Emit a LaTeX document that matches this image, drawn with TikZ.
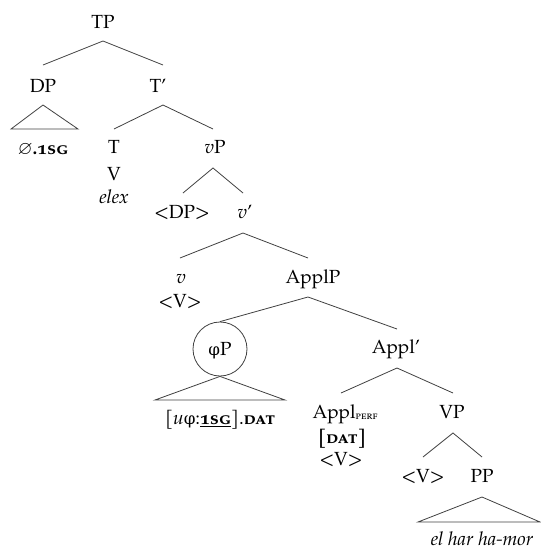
\documentclass[tikz,border=0pt]{standalone}
\usepackage{amssymb}
\usepackage{fontspec}
\setmainfont{TeX Gyre Pagella}[SmallCapsFeatures={Numbers=OldStyle}]
\newfontfamily\grk{DejaVu Serif}[Scale=0.88]
\usetikzlibrary{calc}

\begin{document}
\begin{tikzpicture}[x=1pt,y=-1pt,
  lbl/.style={anchor=base, inner sep=0pt, font=\fontsize{19}{23}\selectfont},
  edge/.style={draw=black!75, line width=0.8pt},
]
\useasboundingbox (0,0) rectangle (541,550);

% labels
\node[lbl] (TP) at (103,28) {TP};
\node[lbl] (DP) at (43,92) {DP};
\node[lbl] (Tbar) at (158,92) {T’};
\node[lbl] (DPcont) at (43,154) {$\varnothing$\textbf{.\textsc{1sg}}};
\node[lbl] (T) at (114,153) {T};
\node[lbl] (V) at (114,180) {V};
\node[lbl] (elex) at (114,203) {\textit{elex}};
\node[lbl] (vP) at (215,153) {\textit{v}P};
\node[lbl] (DPt) at (182,218) {<DP>};
\node[lbl] (vbar) at (245,218) {\textit{v}’};
\node[lbl] (v) at (181,283) {\textit{v}};
\node[lbl] (Vt1) at (180,307) {<V>};
\node[lbl] (ApplP) at (313,283) {ApplP};
\node[circle, edge, minimum size=54pt, inner sep=0pt] (phiC) at (220,349) {};
\node[lbl] (phiP) at (220,355) {{\grk φ}P};
\node[lbl] (phiCont) at (220,424) {[\textit{u}{\grk φ}:\underline{\textbf{\textsc{1sg}}}].\textbf{\textsc{dat}}};
\node[lbl] (Applbar) at (396,353) {Appl’};
\node[lbl] (Applperf) at (345,418) {Appl\raisebox{-1.5pt}{\fontsize{12}{12}\selectfont\textsc{perf}}};
\node[lbl] (dat) at (342,443) {\textbf{[\textsc{dat}]}};
\node[lbl] (Vt2) at (341,465) {<V>};
\node[lbl] (VP) at (452,418) {VP};
\node[lbl] (Vt3) at (423,482) {<V>};
\node[lbl] (PP) at (482,482) {PP};
\node[lbl] (PPcont) at (482,545) {\textit{el har ha-mor}};

% branch points
\coordinate (TPa) at (103,41);
\coordinate (DPt1) at (43,65);   \coordinate (Tbt1) at (163,65);
\coordinate (DPa) at (43,105);
\coordinate (DPl) at (11,129);   \coordinate (DPr) at (78,129);
\coordinate (Tba) at (163,105);
\coordinate (Tt) at (114,129);   \coordinate (vPt) at (213,129);
\coordinate (vPa) at (213,168);
\coordinate (DPtt) at (183,193); \coordinate (vbt) at (243,193);
\coordinate (vba) at (243,233);
\coordinate (vt) at (180,258);   \coordinate (ApplPt) at (308,258);
\coordinate (ApplPa) at (308,297);
\coordinate (Applbt) at (397,329);
\coordinate (phiL) at (155,400); \coordinate (phiR) at (285,400);
\coordinate (Applba) at (397,368);
\coordinate (Applt) at (341,393); \coordinate (VPt) at (453,393);
\coordinate (VPa) at (453,433);
\coordinate (Vt3t) at (423,457); \coordinate (PPt) at (482,457);
\coordinate (PPa) at (482,497);
\coordinate (PPl) at (418,522);  \coordinate (PPr) at (540,522);

% branches
\draw[edge] (DPt1) -- (TPa) -- (Tbt1);
\draw[edge] (DPa) -- (DPl) -- (DPr) -- cycle;
\draw[edge] (Tt) -- (Tba) -- (vPt);
\draw[edge] (DPtt) -- (vPa) -- (vbt);
\draw[edge] (vt) -- (vba) -- (ApplPt);
\draw[edge] (phiC.north) -- (ApplPa) -- (Applbt);
\draw[edge] (phiC.south) -- (phiL) -- (phiR) -- cycle;
\draw[edge] (Applt) -- (Applba) -- (VPt);
\draw[edge] (Vt3t) -- (VPa) -- (PPt);
\draw[edge] (PPa) -- (PPl) -- (PPr) -- cycle;
\end{tikzpicture}
\end{document}
